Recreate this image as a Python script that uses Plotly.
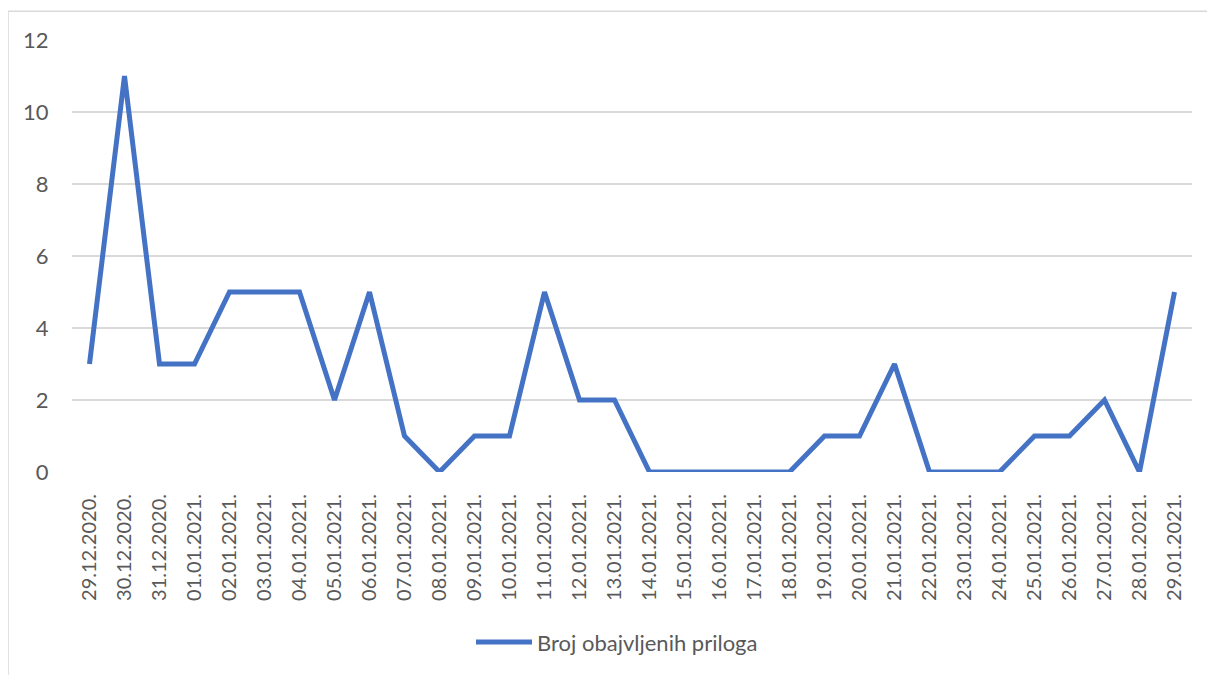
import plotly.graph_objects as go

dates = ["29.12.2020.", "30.12.2020.", "31.12.2020.", "01.01.2021.", "02.01.2021.",
         "03.01.2021.", "04.01.2021.", "05.01.2021.", "06.01.2021.", "07.01.2021.",
         "08.01.2021.", "09.01.2021.", "10.01.2021.", "11.01.2021.", "12.01.2021.",
         "13.01.2021.", "14.01.2021.", "15.01.2021.", "16.01.2021.", "17.01.2021.",
         "18.01.2021.", "19.01.2021.", "20.01.2021.", "21.01.2021.", "22.01.2021.",
         "23.01.2021.", "24.01.2021.", "25.01.2021.", "26.01.2021.", "27.01.2021.",
         "28.01.2021.", "29.01.2021."]
counts = [3, 11, 3, 3, 5, 5, 5, 2, 5, 1, 0, 1, 1, 5, 2, 2, 0, 0, 0, 0, 0, 1, 1, 3,
          0, 0, 0, 1, 1, 2, 0, 5]
series_name = "Broj obajvljenih priloga"
y_ticks = [0, 2, 4, 6, 8, 10, 12]

FONT = "Lato"
GRAY = "#595959"

fig = go.Figure()
fig.add_trace(go.Scatter(
    x=dates, y=counts, mode="lines", name=series_name,
    line=dict(color="#4472C4", width=5, shape="linear"),
    showlegend=True,
))

# page offset of 8px (body margin) compensated
OFF = 8
W, H = 1215 - OFF, 675 - OFF
L, T = 72 - OFF, 40 - OFF
R = W - (1192 - OFF)
B = H - (474 - OFF)
pw, ph = W - L - R, H - T - B

def px_x(x):
    return (x - OFF - L) / pw

def px_y(y):
    return (H - B - (y - OFF)) / ph

fig.update_layout(
    width=W, height=H,
    margin=dict(l=L, r=R, t=T, b=B, pad=0),
    paper_bgcolor="white", plot_bgcolor="white",
    font=dict(family=FONT, color=GRAY, size=20),
    xaxis=dict(
        type="category", tickangle=-90, showgrid=False, zeroline=False,
        showline=False, ticks="outside", ticklen=13, tickcolor="rgba(0,0,0,0)",
        tickfont=dict(family=FONT, size=20, color=GRAY),
        range=[-0.5, len(dates) - 0.5], fixedrange=True,
    ),
    yaxis=dict(
        range=[0, 12], tickvals=y_ticks, showgrid=True, gridcolor="#d9d9d9",
        gridwidth=1.5, zeroline=False, showline=False, ticks="outside",
        ticklen=18, tickcolor="rgba(0,0,0,0)",
        tickfont=dict(family=FONT, size=22, color=GRAY),
    ),
    legend=dict(
        orientation="h", x=px_x(617), xanchor="center", y=px_y(645),
        yanchor="middle",
        font=dict(family=FONT, size=22, color=GRAY), itemwidth=56,
        bgcolor="rgba(0,0,0,0)",
    ),
    shapes=[dict(
        type="rect", xref="paper", yref="paper",
        x0=px_x(8), x1=px_x(1240), y0=px_y(700), y1=px_y(11),
        line=dict(color="#d9d9d9", width=1.5), fillcolor="rgba(0,0,0,0)",
        layer="below",
    )],
)

fig.write_html("out.html")
